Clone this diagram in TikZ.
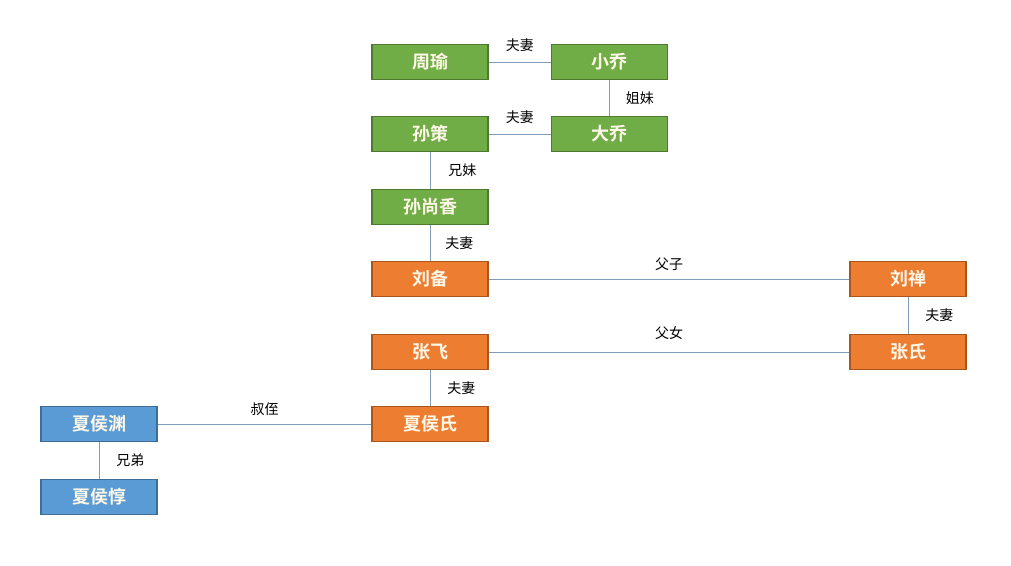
\documentclass[tikz,border=0pt]{standalone}
\usepackage{fontspec}
\newfontfamily\cjk{Noto Sans CJK SC}
\newfontfamily\cjkbold{Noto Sans CJK SC Bold}
\usetikzlibrary{positioning}

\definecolor{greenfill}{HTML}{70AD47}
\definecolor{greenline}{HTML}{4E7A30}
\definecolor{orangefill}{HTML}{ED7D31}
\definecolor{orangeline}{HTML}{A9561E}
\definecolor{bluefill}{HTML}{5B9BD5}
\definecolor{blueline}{HTML}{3E6D98}
\definecolor{linkcolor}{HTML}{7F9DB9}
\definecolor{nametext}{HTML}{FFF8E8}

\begin{document}
\begin{tikzpicture}[
    x=1pt,
    y=-1pt,
    person/.style={
        rectangle,
        draw,
        line width=1.8pt,
        minimum width=116pt,
        minimum height=35pt,
        inner sep=0pt,
        text=nametext,
        font=\cjkbold\fontsize{18}{18}\selectfont,
    },
    wu/.style={person, fill=greenfill, draw=greenline},
    shu/.style={person, fill=orangefill, draw=orangeline},
    wei/.style={person, fill=bluefill, draw=blueline},
    link/.style={
        draw=linkcolor,
        line width=0.9pt,
    },
    relation/.style={
        font=\cjk\fontsize{14}{14}\selectfont,
        text=black,
        inner sep=3pt,
    }
]
    \useasboundingbox (0,0) rectangle (1011,565);

    % Wu
    \node[wu] (zhouyu) at (430,62) {周瑜};
    \node[wu] (xiaoqiao) at (609.5,62) {小乔};
    \node[wu] (sunce) at (430,134) {孙策};
    \node[wu] (daqiao) at (609.5,134) {大乔};
    \node[wu] (sunshangxiang) at (430,207) {孙尚香};

    % Shu
    \node[shu] (liubei) at (430,279) {刘备};
    \node[shu] (liushan) at (908,279) {刘禅};
    \node[shu] (zhangfei) at (430,352) {张飞};
    \node[shu] (zhangshi) at (908,352) {张氏};
    \node[shu] (xiahoushi) at (430,424) {夏侯氏};

    % Wei
    \node[wei] (xiahouyuan) at (99,424) {夏侯渊};
    \node[wei] (xiahoudun) at (99,497) {夏侯惇};

    % Relations
    \draw[link] (zhouyu) -- node[relation, above, yshift=7pt] {夫妻} (xiaoqiao);
    \draw[link] (xiaoqiao) -- node[relation, right, xshift=13pt] {姐妹} (daqiao);
    \draw[link] (sunce) -- node[relation, above, yshift=7pt] {夫妻} (daqiao);
    \draw[link] (sunce) -- node[relation, right, xshift=15pt] {兄妹} (sunshangxiang);
    \draw[link] (sunshangxiang) -- node[relation, right, xshift=12pt] {夫妻} (liubei);
    \draw[link] (liubei) -- node[relation, above, yshift=5pt] {父子} (liushan);
    \draw[link] (liushan) -- node[relation, right, xshift=14pt] {夫妻} (zhangshi);
    \draw[link] (zhangfei) -- node[relation, above, yshift=9pt] {父女} (zhangshi);
    \draw[link] (zhangfei) -- node[relation, right, xshift=14pt] {夫妻} (xiahoushi);
    \draw[link] (xiahouyuan) -- node[relation, above, yshift=5pt] {叔侄} (xiahoushi);
    \draw[link] (xiahouyuan) -- node[relation, right, xshift=14pt] {兄弟} (xiahoudun);
\end{tikzpicture}
\end{document}
